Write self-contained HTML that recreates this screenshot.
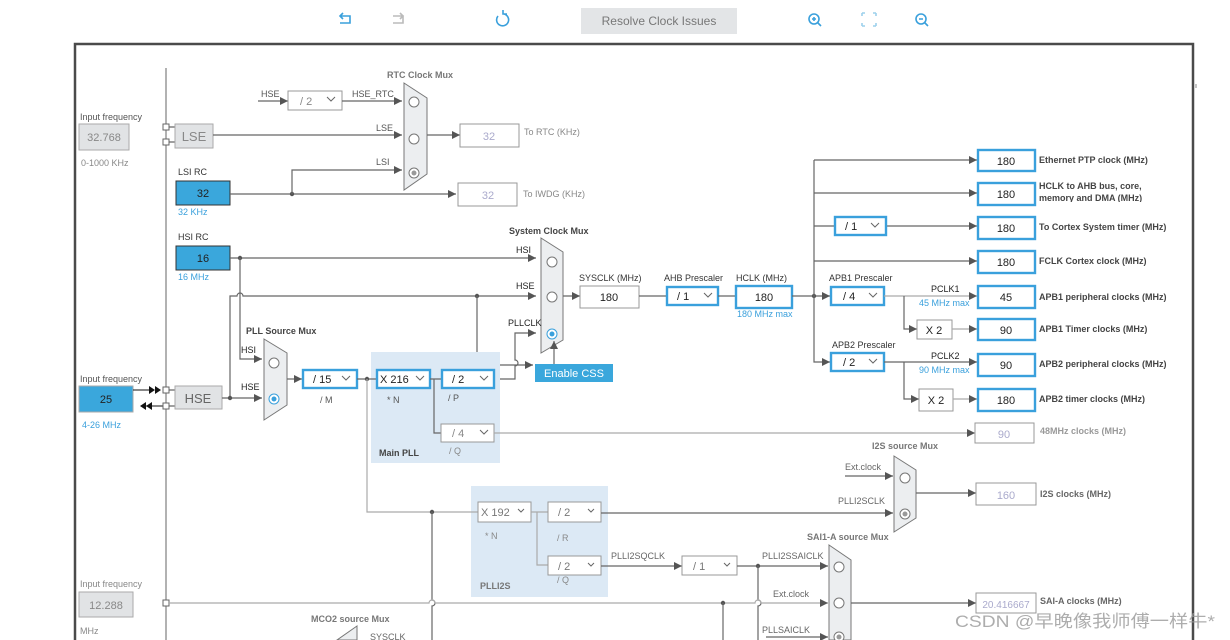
<!DOCTYPE html>
<html><head><meta charset="utf-8"><style>
html,body{margin:0;padding:0;background:#fff;}
svg{display:block;font-family:"Liberation Sans","Noto Sans CJK SC",sans-serif;}
.l{font-size:9px;fill:#555;}
.b{font-size:9px;fill:#444;font-weight:bold;}
.v{font-size:11px;fill:#222;text-anchor:middle;}
.g{font-size:11px;fill:#aac;text-anchor:middle;}
.bl{font-size:9px;fill:#3aa0dc;}
.w{stroke:#666;stroke-width:1.2;fill:none;}
.lg{stroke:#aaa;stroke-width:1.2;fill:none;}
.bx{fill:#fff;stroke:#3aa0dc;stroke-width:2.4;}
.gb{fill:#fff;stroke:#999;stroke-width:1;}
.mux{fill:#eceef0;stroke:#777;stroke-width:1;}
.c{fill:#fff;stroke:#777;stroke-width:1;}
.ch{stroke:#666;stroke-width:1;fill:none;}
</style></head><body>
<svg width="1230" height="640" viewBox="0 0 1230 640">
<defs>
<marker id="a" viewBox="0 0 10 10" refX="10" refY="5" markerWidth="8" markerHeight="8" orient="auto" markerUnits="userSpaceOnUse"><path d="M0,0L10,5L0,10z" fill="#555"/></marker>
</defs>
<g stroke="#3aa0dc" stroke-width="1.6" fill="none">
<path d="M340,16h10v7h-10M343,13l-3,3 3,3"/>
<path d="M498,16a6,6 0 1,0 6,-2M503,10v4h4" />
<circle cx="814" cy="19" r="5"/><path d="M818,23l3,3M812,19h4M814,17v4"/>
<path d="M862,13h3M862,13v3M876,13h-3M876,13v3M862,26h3M862,26v-3M876,26h-3M876,26v-3" stroke="#9cd0ec"/>
<circle cx="921" cy="19" r="5"/><path d="M925,23l3,3M919,19h4"/>
</g>
<path d="M393,16h10v7h-10M400,13l3,3-3,3" stroke="#bbb" stroke-width="1.6" fill="none"/>
<rect x="581" y="8" width="156" height="26" fill="#e3e5e7"/>
<text x="659" y="25" font-size="12" fill="#777" text-anchor="middle">Resolve Clock Issues</text>
<path d="M75,640V44H1193V640" fill="none" stroke="#4a4a4a" stroke-width="2.5"/>
<line x1="166" y1="68" x2="166" y2="640" stroke="#666" stroke-width="1"/>
<text class="l" x="80" y="120" fill="#888">Input frequency</text>
<rect x="79" y="124" width="50" height="26" fill="#e1e3e5" stroke="#aaa"/>
<text x="104" y="141" class="v" style="fill:#888">32.768</text>
<text class="l" x="81" y="166" style="fill:#888">0-1000 KHz</text>
<rect x="163" y="124" width="6" height="6" fill="#fff" stroke="#666"/>
<rect x="163" y="139" width="6" height="6" fill="#fff" stroke="#666"/>
<path class="w" d="M169,127h6M169,142h6"/>
<rect x="175" y="124" width="38" height="24" fill="#e1e3e5" stroke="#aaa"/>
<text x="194" y="141" font-size="13" fill="#888" text-anchor="middle">LSE</text>
<path class="w" d="M213,135H402" marker-end="url(#a)"/>
<text class="l" x="376" y="131">LSE</text>
<text class="l" x="261" y="97">HSE</text>
<path class="w" d="M258,101H288" marker-end="url(#a)"/>
<rect x="288" y="91" width="54" height="19" class="gb"/>
<text x="300" y="105" font-size="11" fill="#888">/ 2</text><path d="M327,97l4,4 4,-4" class="ch" stroke="#aaa"/>
<path class="w" d="M342,101H402" marker-end="url(#a)"/>
<text class="l" x="352" y="97">HSE_RTC</text>
<text class="b" x="387" y="78" style="fill:#777">RTC Clock Mux</text>
<path class="mux" d="M404,83L427,98V174L404,190Z"/>
<circle class="c" cx="414" cy="102" r="5"/><circle class="c" cx="414" cy="139" r="5"/>
<circle class="c" cx="414" cy="173" r="5"/><circle cx="414" cy="173" r="2.5" fill="#999"/>
<path class="w" d="M427,135H460" marker-end="url(#a)"/>
<rect x="460" y="124" width="59" height="23" class="gb"/><text class="g" x="489" y="140">32</text>
<text class="l" x="524" y="135" style="fill:#888">To RTC (KHz)</text>
<text class="l" x="178" y="175" style="fill:#333">LSI RC</text>
<rect x="176" y="181" width="54" height="24" fill="#3aa7dc" stroke="#333"/>
<text class="v" x="203" y="197">32</text>
<text class="bl" x="178" y="215">32 KHz</text>
<path class="w" d="M230,194H456" marker-end="url(#a)"/>
<circle cx="292" cy="194" r="2.2" fill="#555"/>
<path class="w" d="M292,194V170H402" marker-end="url(#a)"/>
<text class="l" x="376" y="165">LSI</text>
<rect x="458" y="183" width="59" height="23" class="gb"/><text class="g" x="488" y="199">32</text>
<text class="l" x="523" y="197" style="fill:#888">To IWDG (KHz)</text>
<text class="l" x="178" y="240" style="fill:#333">HSI RC</text>
<rect x="176" y="246" width="54" height="24" fill="#3aa7dc" stroke="#333"/>
<text class="v" x="203" y="262">16</text>
<text class="bl" x="178" y="280">16 MHz</text>
<path class="w" d="M230,258H536" marker-end="url(#a)"/>
<circle cx="240" cy="258" r="2.2" fill="#555"/>
<path class="w" d="M240,258V359H262" marker-end="url(#a)"/>
<text class="l" x="516" y="253" style="fill:#222">HSI</text>
<path class="w" d="M230,398V296H237a3,3 0 0,1 6,0H536" marker-end="url(#a)"/>
<text class="l" x="516" y="289" style="fill:#222">HSE</text>
<circle cx="477" cy="296" r="2.2" fill="#555"/>
<path class="w" d="M477,296V365H533" marker-end="url(#a)"/>
<text class="b" x="509" y="234">System Clock Mux</text>
<path class="mux" d="M541,238L563,252V340L541,353Z"/>
<circle class="c" cx="552" cy="262" r="5"/><circle class="c" cx="552" cy="297" r="5"/>
<circle cx="552" cy="334" r="5" fill="#fff" stroke="#3aa0dc"/><circle cx="552" cy="334" r="2.5" fill="#3aa0dc"/>
<rect x="535" y="364" width="78" height="18" fill="#3aa7dc"/>
<text x="574" y="377" font-size="11" fill="#fff" text-anchor="middle">Enable CSS</text>
<path class="w" d="M554,364V341" marker-end="url(#a)"/>
<text class="l" x="508" y="326" style="fill:#222">PLLCLK</text>
<path class="w" d="M494,379H515V366a3,3 0 0,0 0,-6V333H536" marker-end="url(#a)"/>
<text class="l" x="80" y="382" style="fill:#555">Input frequency</text>
<rect x="79" y="386" width="54" height="26" fill="#3aa7dc" stroke="#aaa"/>
<text class="v" x="106" y="403">25</text>
<text class="bl" x="82" y="428">4-26 MHz</text>
<path d="M133,390H150" stroke="#111"/><path d="M149,386l6,4-6,4zM155,386l6,4-6,4z" fill="#111"/>
<path d="M145,406H163" stroke="#111"/><path d="M140,406l6,-4v8zM146,406l6,-4v8z" fill="#111"/>
<rect x="163" y="387" width="6" height="6" fill="#fff" stroke="#666"/>
<rect x="163" y="403" width="6" height="6" fill="#fff" stroke="#666"/>
<path class="w" d="M169,390h6M169,406h6"/>
<rect x="175" y="386" width="47" height="23" fill="#e1e3e5" stroke="#aaa"/>
<text x="198" y="403" font-size="13" fill="#666" text-anchor="middle">HSE</text>
<path class="w" d="M222,398H262" marker-end="url(#a)"/>
<circle cx="230" cy="398" r="2.2" fill="#555"/>
<text class="b" x="246" y="334">PLL Source Mux</text>
<text class="l" x="241" y="353" style="fill:#222">HSI</text>
<text class="l" x="241" y="390" style="fill:#222">HSE</text>
<path class="mux" d="M264,339L287,353V405L264,420Z"/>
<circle class="c" cx="274" cy="363" r="5"/>
<circle cx="274" cy="399" r="5" fill="#fff" stroke="#3aa0dc"/><circle cx="274" cy="399" r="2.5" fill="#3aa0dc"/>
<path class="w" d="M287,379H302" marker-end="url(#a)"/>
<rect x="371" y="352" width="129" height="111" fill="#dce9f5"/>
<text class="b" x="379" y="456">Main PLL</text>
<rect x="303" y="370" width="54" height="18" class="bx"/>
<text x="313" y="383" font-size="11" fill="#222">/ 15</text><path d="M342,376l4,4 4,-4" class="ch"/>
<text class="l" x="320" y="403">/ M</text>
<path class="w" d="M357,379H376"/>
<circle cx="367" cy="379" r="2.2" fill="#555"/>
<rect x="377" y="370" width="53" height="18" class="bx"/>
<text x="380" y="383" font-size="11" fill="#222">X 216</text><path d="M416,376l4,4 4,-4" class="ch"/>
<text class="l" x="387" y="403">* N</text>
<path class="w" d="M430,379H441M434,379V433H441"/>
<rect x="442" y="370" width="52" height="18" class="bx"/>
<text x="452" y="383" font-size="11" fill="#222">/ 2</text><path d="M480,376l4,4 4,-4" class="ch"/>
<text class="l" x="448" y="401">/ P</text>
<rect x="441" y="424" width="53" height="18" class="gb"/>
<text x="452" y="437" font-size="11" fill="#888">/ 4</text><path d="M480,430l4,4 4,-4" class="ch" stroke="#aaa"/>
<text class="l" x="449" y="454" style="fill:#888">/ Q</text>
<path class="lg" d="M494,433H975" marker-end="url(#a)"/>
<rect x="975" y="423" width="59" height="20" class="gb"/><text class="g" x="1004" y="438">90</text>
<text class="b" x="1040" y="434" style="fill:#999">48MHz clocks (MHz)</text>
<path class="w" d="M563,296H580" marker-end="url(#a)"/>
<text class="l" x="579" y="281" style="fill:#333">SYSCLK (MHz)</text>
<rect x="580" y="286" width="59" height="22" fill="#fff" stroke="#999"/>
<text class="v" x="609" y="301">180</text>
<path class="w" d="M639,296H666"/>
<text class="l" x="664" y="281" style="fill:#333">AHB Prescaler</text>
<rect x="667" y="287" width="51" height="18" class="bx"/>
<text x="677" y="300" font-size="11" fill="#222">/ 1</text><path d="M704,293l4,4 4,-4" class="ch"/>
<path class="w" d="M718,296H735"/>
<text class="l" x="736" y="281" style="fill:#333">HCLK (MHz)</text>
<rect x="736" y="286" width="56" height="22" class="bx"/>
<text class="v" x="764" y="301">180</text>
<text class="bl" x="737" y="317">180 MHz max</text>
<path class="w" d="M792,296H830" marker-end="url(#a)"/>
<circle cx="814" cy="296" r="2.2" fill="#555"/>
<path class="w" d="M814,160V362H830" marker-end="url(#a)"/>
<path class="w" d="M814,160H977" marker-end="url(#a)"/>
<path class="w" d="M814,193H977" marker-end="url(#a)"/>
<path class="w" d="M814,226H834"/>
<path class="w" d="M886,226H977" marker-end="url(#a)"/>
<path class="w" d="M814,261H977" marker-end="url(#a)"/>
<rect x="835" y="217" width="51" height="18" class="bx"/>
<text x="845" y="230" font-size="11" fill="#222">/ 1</text><path d="M871,223l4,4 4,-4" class="ch"/>
<text class="l" x="829" y="281" style="fill:#333">APB1 Prescaler</text>
<rect x="831" y="287" width="53" height="18" class="bx"/>
<text x="843" y="300" font-size="11" fill="#222">/ 4</text><path d="M869,293l4,4 4,-4" class="ch"/>
<path class="lg" d="M884,296H977" marker-end="url(#a)"/>
<path class="w" d="M904,296V329H917" marker-end="url(#a)"/>
<text class="l" x="931" y="292" style="fill:#222">PCLK1</text>
<text class="bl" x="919" y="306">45 MHz max</text>
<rect x="917" y="320" width="35" height="19" fill="#fff" stroke="#999"/><text class="v" x="934" y="334">X 2</text>
<path class="lg" d="M952,329H977" marker-end="url(#a)"/>
<text class="l" x="832" y="348" style="fill:#333">APB2 Prescaler</text>
<rect x="831" y="353" width="53" height="18" class="bx"/>
<text x="843" y="366" font-size="11" fill="#222">/ 2</text><path d="M869,359l4,4 4,-4" class="ch"/>
<path class="w" d="M884,362H977" marker-end="url(#a)"/>
<path class="w" d="M904,362V399H919" marker-end="url(#a)"/>
<text class="l" x="931" y="359" style="fill:#222">PCLK2</text>
<text class="bl" x="919" y="373">90 MHz max</text>
<rect x="919" y="389" width="34" height="22" fill="#fff" stroke="#999"/><text class="v" x="936" y="404">X 2</text>
<path class="lg" d="M953,399H977" marker-end="url(#a)"/>
<g>
<rect x="978" y="150" width="57" height="21" class="bx"/><text class="v" x="1006" y="165">180</text>
<rect x="978" y="183" width="57" height="22" class="bx"/><text class="v" x="1006" y="198">180</text>
<rect x="978" y="217" width="57" height="22" class="bx"/><text class="v" x="1006" y="232">180</text>
<rect x="978" y="251" width="57" height="22" class="bx"/><text class="v" x="1006" y="266">180</text>
<rect x="978" y="286" width="57" height="22" class="bx"/><text class="v" x="1006" y="301">45</text>
<rect x="978" y="319" width="57" height="21" class="bx"/><text class="v" x="1006" y="334">90</text>
<rect x="978" y="354" width="57" height="22" class="bx"/><text class="v" x="1006" y="369">90</text>
<rect x="978" y="389" width="57" height="22" class="bx"/><text class="v" x="1006" y="404">180</text>
</g>
<g class="b">
<text x="1039" y="163">Ethernet PTP clock (MHz)</text>
<text x="1039" y="189">HCLK to AHB bus, core,</text>
<svg x="1030" y="190" width="200" height="12" overflow="hidden"><text x="9" y="11" class="b">memory and DMA (MHz)</text></svg>
<text x="1039" y="230">To Cortex System timer (MHz)</text>
<text x="1039" y="264">FCLK Cortex clock (MHz)</text>
<text x="1039" y="300">APB1 peripheral clocks (MHz)</text>
<text x="1039" y="332">APB1 Timer clocks (MHz)</text>
<text x="1039" y="367">APB2 peripheral clocks (MHz)</text>
<text x="1039" y="402">APB2 timer clocks (MHz)</text>
</g>
<text class="b" x="872" y="449" style="fill:#777">I2S source Mux</text>
<path class="mux" d="M894,456L916,470V518L894,532Z"/>
<circle class="c" cx="905" cy="478" r="5"/>
<circle class="c" cx="905" cy="514" r="5"/><circle cx="905" cy="514" r="2.5" fill="#999"/>
<text class="l" x="845" y="470" style="fill:#666">Ext.clock</text>
<path class="w" d="M845,476H893" marker-end="url(#a)"/>
<text class="l" x="838" y="504" style="fill:#666">PLLI2SCLK</text>
<path class="w" d="M916,493H976" marker-end="url(#a)"/>
<rect x="976" y="483" width="60" height="22" class="gb"/><text class="g" x="1006" y="499">160</text>
<text class="b" x="1040" y="497" style="fill:#666">I2S clocks (MHz)</text>
<rect x="471" y="486" width="137" height="111" fill="#dce9f5"/>
<text class="b" x="480" y="589" style="fill:#777">PLLI2S</text>
<path class="lg" d="M367,379V512H478"/>
<circle cx="432" cy="512" r="2.2" fill="#555"/>
<path class="w" d="M432,512V600a3,3 0 0,1 0,6V640"/>
<rect x="478" y="502" width="53" height="20" class="gb"/>
<text x="481" y="516" font-size="11" fill="#777">X 192</text><path d="M518,509l3,3 3,-3" class="ch" stroke="#aaa"/>
<text class="l" x="485" y="539" style="fill:#888">* N</text>
<path class="lg" d="M531,512H548M537,512V565H548"/>
<rect x="548" y="502" width="53" height="20" class="gb"/>
<text x="558" y="516" font-size="11" fill="#777">/ 2</text><path d="M588,509l3,3 3,-3" class="ch" stroke="#aaa"/>
<text class="l" x="557" y="541" style="fill:#888">/ R</text>
<path class="w" d="M601,513H893" marker-end="url(#a)"/>
<rect x="548" y="556" width="53" height="19" class="gb"/>
<text x="558" y="570" font-size="11" fill="#777">/ 2</text><path d="M588,563l3,3 3,-3" class="ch" stroke="#aaa"/>
<text class="l" x="557" y="583" style="fill:#888">/ Q</text>
<text class="l" x="611" y="559" style="fill:#666">PLLI2SQCLK</text>
<path class="w" d="M601,566H682" marker-end="url(#a)"/>
<rect x="682" y="556" width="55" height="19" class="gb"/>
<text x="693" y="570" font-size="11" fill="#777">/ 1</text><path d="M724,563l3,3 3,-3" class="ch" stroke="#aaa"/>
<path class="w" d="M737,566H828" marker-end="url(#a)"/>
<circle cx="758" cy="566" r="2.2" fill="#555"/>
<path class="w" d="M758,566V600a3,3 0 0,1 0,6V640"/>
<text class="l" x="762" y="559" style="fill:#666">PLLI2SSAICLK</text>
<text class="b" x="807" y="540" style="fill:#777">SAI1-A source Mux</text>
<path class="mux" d="M829,545L851,560V640H829Z"/>
<circle class="c" cx="839" cy="567" r="5"/><circle class="c" cx="839" cy="603" r="5"/>
<circle class="c" cx="839" cy="637" r="5"/><circle cx="839" cy="637" r="2.5" fill="#999"/>
<text class="l" x="773" y="597" style="fill:#666">Ext.clock</text>
<text class="l" x="762" y="633" style="fill:#666">PLLSAICLK</text>
<path class="w" d="M766,637H828" marker-end="url(#a)"/>
<path class="w" d="M851,603H976" marker-end="url(#a)"/>
<rect x="976" y="593" width="60" height="20" class="gb"/><text class="g" x="1006" y="608" style="font-size:10px">20.416667</text>
<text class="b" x="1040" y="604" style="fill:#666">SAI-A clocks (MHz)</text>
<text class="l" x="80" y="587" style="fill:#888">Input frequency</text>
<rect x="79" y="592" width="54" height="25" fill="#e1e3e5" stroke="#aaa"/>
<text x="106" y="609" font-size="11" fill="#888" text-anchor="middle">12.288</text>
<text class="l" x="80" y="634" style="fill:#888">MHz</text>
<rect x="163" y="600" width="6" height="6" fill="#fff" stroke="#666"/>
<path class="lg" d="M169,603H429a3,3 0 0,1 6,0H755a3,3 0 0,1 6,0H828" marker-end="url(#a)"/>
<circle cx="723" cy="603" r="2.2" fill="#555"/>
<path class="w" d="M723,603V640"/>
<text class="b" x="311" y="622" style="fill:#777">MCO2 source Mux</text>
<path class="mux" d="M357,626L337,640H357Z"/>
<text class="l" x="370" y="640" style="fill:#666">SYSCLK</text>
<line x1="1196" y1="84" x2="1196" y2="88" stroke="#888"/>
<text x="955" y="627" font-size="17" fill="#999" opacity="0.8" textLength="260" lengthAdjust="spacingAndGlyphs">CSDN @早晚像我师傅一样牛*</text>
</svg>
</body></html>
